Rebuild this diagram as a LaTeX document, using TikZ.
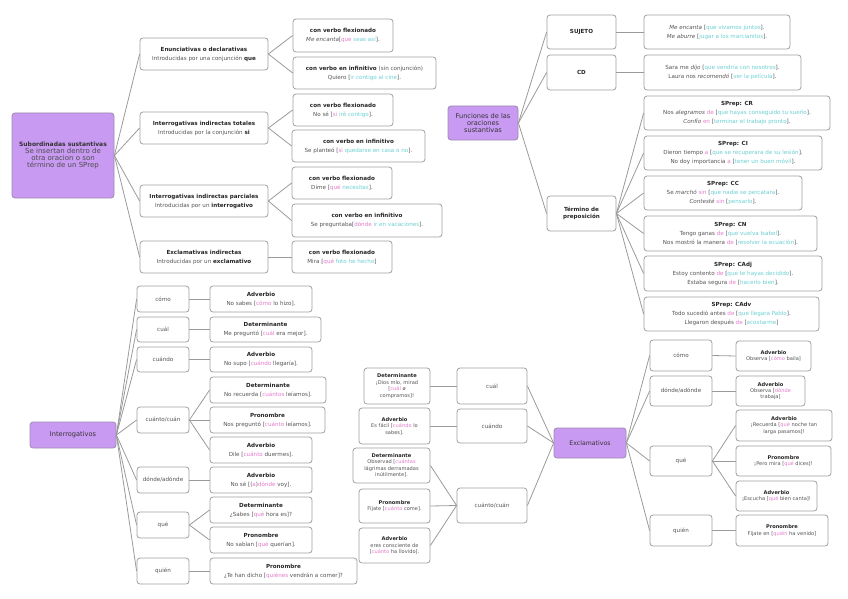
\documentclass[tikz,border=0pt]{standalone}
\usepackage{fontspec}
\setmainfont{DejaVu Sans}
\usepackage{tikz}
\usetikzlibrary{positioning}

\definecolor{lila}{HTML}{C99AF2}
\definecolor{lilaborde}{HTML}{9C8AAE}
\definecolor{boxgray}{HTML}{A0A0A0}
\definecolor{linegray}{HTML}{9A9A9A}
\definecolor{textgray}{HTML}{555555}
\definecolor{rosa}{HTML}{E47BCB}
\definecolor{turq}{HTML}{6CCFD2}

\newcommand{\tit}[1]{\textcolor{black!85}{\textbf{#1}}}
\newcommand{\pal}[1]{\textcolor{rosa}{#1}}
\newcommand{\fra}[1]{\textcolor{turq}{#1}}

\tikzset{
  caja/.style 2 args={draw=boxgray, line width=0.8pt, rounded corners=3pt, fill=white,
    align=center, inner sep=1pt, minimum width=#1pt, minimum height=#2pt,
    font=\fontsize{5.6}{9}\selectfont, text=textgray},
  chica/.style={font=\fontsize{5.1}{6.4}\selectfont},
  raiz/.style 2 args={caja={#1}{#2}, fill=lila, draw=lilaborde, text=black!80,
    font=\fontsize{6.6}{8}\selectfont},
  rama/.style={draw=linegray, line width=0.8pt},
}

\begin{document}
\begin{tikzpicture}[x=1pt, y=-1pt]
\useasboundingbox (0,0) rectangle (848,599);

% SUBORDINADAS SUSTANTIVAS
\node[raiz={102}{85}, font=\fontsize{7}{8}\selectfont] (sub) at (63,155.5) {\textbf{\fontsize{6}{9}\selectfont Subordinadas sustantivas}\\[-1pt]
  \textcolor{black!70}{Se insertan dentro de}\\[-1pt] \textcolor{black!70}{otra oracion o son}\\[-1pt] \textcolor{black!70}{término de un SPrep}};
\node[caja={128}{32}] (enun) at (204,54) {\tit{Enunciativas o declarativas}\\ Introducidas por una conjunción \tit{que}};
\node[caja={128}{32}] (tot) at (204,128) {\tit{Interrogativas indirectas totales}\\ Introducidas por la conjunción \tit{si}};
\node[caja={128}{32}] (parc) at (204,201) {\tit{Interrogativas indirectas parciales}\\ Introducidas por un \tit{interrogativo}};
\node[caja={128}{32}] (excl) at (204,257) {\tit{Exclamativas indirectas}\\ Introducidas por un \tit{exclamativo}};
\node[caja={100}{33}] (enun1) at (343,35.5) {\tit{con verbo flexionado}\\ \textit{Me encanta}[\pal{que} \fra{seas así}].};
\node[caja={143}{32}] (enun2) at (364.5,73) {\tit{con verbo en infinitivo} (sin conjunción)\\ Quiero [\fra{ir contigo al cine}].};
\node[caja={100}{32}] (tot1) at (343,110) {\tit{con verbo flexionado}\\ No sé [\pal{si} \fra{iré contigo}].};
\node[caja={133}{32}] (tot2) at (358.5,146) {\tit{con verbo en infinitivo}\\ Se planteó [\pal{si} \fra{quedarse en casa o no}].};
\node[caja={100}{32}] (parc1) at (342,183) {\tit{con verbo flexionado}\\ Dime [\pal{qué} \fra{necesitas}].};
\node[caja={150}{33}] (parc2) at (367,220.5) {\tit{con verbo en infinitivo}\\ Se preguntaba[\pal{dónde} \fra{ir en vacaciones}].};
\node[caja={100}{32}] (excl1) at (342,257) {\tit{con verbo flexionado}\\ Mira [\pal{qué} \fra{foto he hecho}]};
\foreach \n in {enun,tot,parc,excl} \draw[rama] (sub.east) -- (\n.west);
\foreach \a/\b in {enun/enun1,enun/enun2,tot/tot1,tot/tot2,parc/parc1,parc/parc2,excl/excl1}
  \draw[rama] (\a.east) -- (\b.west);

% FUNCIONES
\node[raiz={70}{34}] (fun) at (483,123) {Funciones de las\\[-1pt] oraciones\\[-1pt] sustantivas};
\node[caja={69}{34}] (suj) at (581.5,32) {\tit{SUJETO}};
\node[caja={69}{35}] (cd) at (581.5,72.5) {\tit{CD}};
\node[caja={69}{35}] (ter) at (581.5,213.5) {\tit{Término de}\\[-2pt] \tit{preposición}};
\node[caja={146}{34}] (suj1) at (717,32) {\textit{Me encanta} [\fra{que vivamos juntos}].\\ \textit{Me aburre} [\fra{jugar a los marcianitos}].};
\node[caja={157}{35}] (cd1) at (722.5,72.5) {Sara me \textit{dijo} [\fra{que vendría con nosotros}].\\ Laura nos \textit{recomendó} [\fra{ver la película}].};
\node[caja={186}{34}] (cr) at (737,113) {\tit{SPrep: CR}\\ Nos \textit{alegramos} \pal{de} [\fra{que hayas conseguido tu sueño}].\\ \textit{Confío} \pal{en} [\fra{terminar el trabajo pronto}].};
\node[caja={178}{34}] (ci) at (733,153) {\tit{SPrep: CI}\\ Dieron tiempo \pal{a} [\fra{que se recuperara de su lesión}].\\ No doy importancia \pal{a} [\fra{tener un buen móvil}].};
\node[caja={158}{34}] (cc) at (723,193) {\tit{SPrep: CC}\\ Se \textit{marchó} \pal{sin} [\fra{que nadie se percatara}].\\ \textit{Contesté} \pal{sin} [\fra{pensarlo}].};
\node[caja={173}{35}] (cn) at (730.5,233.5) {\tit{SPrep: CN}\\ Tengo ganas \pal{de} [\fra{que vuelva Isabel}].\\ Nos mostró la manera \pal{de} [\fra{resolver la ecuación}].};
\node[caja={178}{35}] (cadj) at (733,273.5) {\tit{SPrep: CAdj}\\ Estoy contento \pal{de} [\fra{que te hayas decidido}].\\ Estaba segura \pal{de} [\fra{hacerlo bien}].};
\node[caja={175}{34}] (cadv) at (731.5,314) {\tit{SPrep: CAdv}\\ Todo sucedió antes \pal{de} [\fra{que llegara Pablo}].\\ Llegaron después \pal{de} [\fra{acostarme}]};
\foreach \n in {suj,cd,ter} \draw[rama] (fun.east) -- (\n.west);
\draw[rama] (suj.east) -- (suj1.west);
\draw[rama] (cd.east) -- (cd1.west);
\foreach \n in {cr,ci,cc,cn,cadj,cadv} \draw[rama] (ter.east) -- (\n.west);

% INTERROGATIVOS
\node[raiz={86}{26}] (int) at (73,435) {Interrogativos};
\node[caja={52}{26}] (icomo) at (163,299) {cómo};
\node[caja={52}{25}] (icual) at (163,329.5) {cuál};
\node[caja={52}{25}] (icuando) at (163,359.5) {cuándo};
\node[caja={52}{26}] (icuanto) at (163,420) {cuánto/cuán};
\node[caja={52}{26}] (idonde) at (163,480) {dónde/adónde};
\node[caja={52}{26}] (ique) at (163,525) {qué};
\node[caja={52}{26}] (iquien) at (163,571) {quién};
\node[caja={102}{26}] (icomo1) at (261,299) {\tit{Adverbio}\\ No sabes [\pal{cómo} lo hizo].};
\node[caja={111}{25}] (icual1) at (265.5,329.5) {\tit{Determinante}\\ Me preguntó [\pal{cuál} era mejor].};
\node[caja={102}{25}] (icuando1) at (261,359.5) {\tit{Adverbio}\\ No supo [\pal{cuándo} llegaría].};
\node[caja={116}{26}] (icuanto1) at (268,390) {\tit{Determinante}\\ No recuerda [\pal{cuántos} leíamos].};
\node[caja={115}{26}] (icuanto2) at (267.5,420) {\tit{Pronombre}\\ Nos preguntó [\pal{cuánto} leíamos].};
\node[caja={102}{26}] (icuanto3) at (261,450) {\tit{Adverbio}\\ Dile [\pal{cuánto} duermes].};
\node[caja={102}{26}] (idonde1) at (261,480) {\tit{Adverbio}\\ No sé [(\pal{a})\pal{dónde} voy].};
\node[caja={102}{26}] (ique1) at (261,510) {\tit{Determinante}\\ ¿Sabes [\pal{qué} hora es]?};
\node[caja={102}{26}] (ique2) at (261,540) {\tit{Pronombre}\\ No sabían [\pal{qué} querían].};
\node[caja={147}{26}] (iquien1) at (283.5,571) {\tit{Pronombre}\\ ¿Te han dicho [\pal{quiénes} vendrán a comer]?};
\foreach \n in {icomo,icual,icuando,icuanto,idonde,ique,iquien} \draw[rama] (int.east) -- (\n.west);
\foreach \a/\b in {icomo/icomo1,icual/icual1,icuando/icuando1,icuanto/icuanto1,icuanto/icuanto2,icuanto/icuanto3,idonde/idonde1,ique/ique1,ique/ique2,iquien/iquien1}
  \draw[rama] (\a.east) -- (\b.west);

% EXCLAMATIVOS
\node[raiz={72}{30}, font=\fontsize{6.2}{8}\selectfont] (exc) at (590,443) {Exclamativos};
\node[caja={70}{36}] (ecual) at (492,386) {cuál};
\node[caja={70}{34}] (ecuando) at (492,426) {cuándo};
\node[caja={70}{35}] (ecuanto) at (492,505.5) {cuánto/cuán};
\node[caja={66}{36}, chica] (ecual1) at (397,386) {\tit{Determinante}\\ ¡Dios mío, mirad\\{}[\pal{cuál} ø\\ compramos]!};
\node[caja={71}{36}, chica] (ecuando1) at (394.5,426) {\tit{Adverbio}\\ Es fácil [\pal{cuándo} lo\\ sabes].};
\node[caja={77}{35}, chica] (ecuanto1) at (391.5,465.5) {\tit{Determinante}\\ Observad [\pal{cuántas}\\ lágrimas derramadas\\ inútilmente].};
\node[caja={71}{34}, chica] (ecuanto2) at (394.5,506) {\tit{Pronombre}\\ Fíjate [\pal{cuánto} come].};
\node[caja={71}{35}, chica] (ecuanto3) at (394.5,545.5) {\tit{Adverbio}\\ eres consciente de\\{}[\pal{cuánto} ha llovido].};
\node[caja={62}{31}] (ecomo) at (681,355.5) {cómo};
\node[caja={62}{30}] (edonde) at (681,391) {dónde/adónde};
\node[caja={62}{30}] (eque) at (681,461) {qué};
\node[caja={62}{31}] (equien) at (681,530.5) {quién};
\node[caja={75}{30}, chica] (ecomo1) at (773.5,356) {\tit{Adverbio}\\ Observa [\pal{cómo} baila]};
\node[caja={69}{30}, chica] (edonde1) at (770.5,391) {\tit{Adverbio}\\ Observa [\pal{dónde}\\ trabaja]};
\node[caja={96}{31}, chica] (eque1) at (784,425.5) {\tit{Adverbio}\\ ¡Recuerda [\pal{qué} noche tan\\ larga pasamos]!};
\node[caja={95}{30}, chica] (eque2) at (783.5,461) {\tit{Pronombre}\\ ¡Pero mira [\pal{qué} dices]!};
\node[caja={81}{30}, chica] (eque3) at (776.5,496) {\tit{Adverbio}\\ ¡Escucha [\pal{qué} bien canta]!};
\node[caja={92}{31}, chica] (equien1) at (782,530.5) {\tit{Pronombre}\\ Fíjate en [\pal{quién} ha venido]};
\foreach \n in {ecual,ecuando,ecuanto} \draw[rama] (exc.west) -- (\n.east);
\draw[rama] (ecual.west) -- (ecual1.east);
\draw[rama] (ecuando.west) -- (ecuando1.east);
\foreach \n in {ecuanto1,ecuanto2,ecuanto3} \draw[rama] (ecuanto.west) -- (\n.east);
\foreach \n in {ecomo,edonde,eque,equien} \draw[rama] (exc.east) -- (\n.west);
\draw[rama] (ecomo.east) -- (ecomo1.west);
\draw[rama] (edonde.east) -- (edonde1.west);
\foreach \n in {eque1,eque2,eque3} \draw[rama] (eque.east) -- (\n.west);
\draw[rama] (equien.east) -- (equien1.west);
\end{tikzpicture}
\end{document}
